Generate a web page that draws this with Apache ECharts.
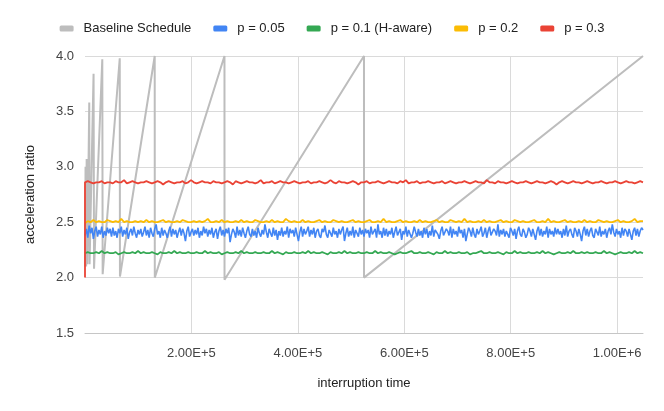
<!DOCTYPE html>
<html>
<head>
<meta charset="utf-8">
<script src="https://cdn.jsdelivr.net/npm/echarts@6/dist/echarts.min.js"></script>
<style>html,body{margin:0;padding:0;background:#fff}#c{width:664px;height:411px}</style>
</head>
<body>
<div id="c"></div>
<script>
// ---- data ----
const seriesNames = ['Baseline Schedule', 'p = 0.05', 'p = 0.1 (H-aware)', 'p = 0.2', 'p = 0.3'];
const xMax = 1048576;
const xTickValues = [200000, 400000, 600000, 800000, 1000000];
const yTickValues = [1.5, 2.0, 2.5, 3.0, 3.5, 4.0];

// baseline doubling schedule: [interruption time, ratio]
const baseline = [
  [300, 2.1], [1000, 3.0], [1100, 2.15], [2000, 3.0], [2150, 2.1], [3100, 3.07],
  [4300, 2.12], [8000, 3.58], [8600, 2.12], [16100, 3.84], [17000, 2.08],
  [32500, 3.97], [33200, 2.03], [65300, 3.98], [65700, 2.01], [131000, 4.0],
  [131150, 2.0], [262100, 4.0], [262200, 1.98], [524250, 4.0], [524350, 2.0],
  [1048576, 4.0]
];

// sampled runs: values at evenly spaced sample times from 0 to xMax
const p005 = [
2.38,2.44,2.36,2.47,2.40,2.45,2.35,2.42,2.46,2.37,2.43,2.39,2.46,2.36,2.42,2.38,2.45,2.40,2.44,2.37,
2.45,2.38,2.42,2.36,2.44,2.40,2.46,2.37,2.43,2.39,2.45,2.35,2.41,2.44,2.38,2.46,2.40,2.36,2.43,2.39,
2.44,2.37,2.41,2.46,2.38,2.43,2.36,2.45,2.40,2.37,2.44,2.48,2.39,2.42,2.36,2.45,2.38,2.43,2.40,2.36,
2.42,2.46,2.37,2.44,2.39,2.43,2.36,2.41,2.45,2.38,2.44,2.40,2.33,2.42,2.46,2.37,2.41,2.44,2.38,2.43,
2.39,2.45,2.36,2.42,2.38,2.46,2.40,2.44,2.37,2.43,2.39,2.45,2.36,2.41,2.44,2.35,2.42,2.46,2.38,2.43,
2.37,2.44,2.40,2.45,2.32,2.39,2.44,2.41,2.36,2.46,2.38,2.43,2.37,2.45,2.40,2.36,2.42,2.46,2.39,2.37,
2.44,2.38,2.42,2.36,2.45,2.40,2.37,2.43,2.39,2.48,2.41,2.36,2.44,2.40,2.37,2.45,2.38,2.43,2.34,2.42,
2.38,2.45,2.37,2.42,2.39,2.46,2.36,2.44,2.40,2.43,2.37,2.45,2.39,2.33,2.41,2.46,2.37,2.44,2.39,2.42,
2.46,2.37,2.43,2.39,2.45,2.36,2.42,2.44,2.38,2.36,2.44,2.41,2.47,2.39,2.36,2.43,2.40,2.37,2.45,2.39,
2.42,2.36,2.44,2.39,2.43,2.46,2.33,2.40,2.45,2.37,2.42,2.38,2.46,2.36,2.43,2.40,2.37,2.45,2.39,2.43,
2.37,2.44,2.40,2.43,2.36,2.46,2.39,2.38,2.44,2.36,2.48,2.39,2.42,2.36,2.45,2.38,2.44,2.37,2.42,2.39,
2.45,2.36,2.41,2.46,2.38,2.37,2.44,2.34,2.42,2.39,2.46,2.37,2.43,2.44,2.36,2.40,2.46,2.41,2.37,2.44,
2.38,2.42,2.36,2.45,2.39,2.44,2.36,2.42,2.38,2.47,2.37,2.43,2.44,2.39,2.35,2.42,2.46,2.38,2.37,2.44,
2.42,2.38,2.46,2.36,2.44,2.39,2.42,2.37,2.46,2.40,2.43,2.36,2.44,2.33,2.39,2.45,2.42,2.37,2.45,2.39,
2.36,2.44,2.39,2.42,2.46,2.37,2.40,2.45,2.36,2.42,2.46,2.38,2.37,2.44,2.42,2.38,2.48,2.37,2.43,2.39,
2.44,2.37,2.42,2.39,2.36,2.45,2.42,2.38,2.44,2.35,2.42,2.46,2.39,2.37,2.44,2.41,2.36,2.39,2.45,2.42,
2.37,2.44,2.39,2.34,2.42,2.46,2.38,2.44,2.37,2.42,2.39,2.46,2.36,2.44,2.39,2.42,2.37,2.45,2.39,2.44,
2.39,2.42,2.36,2.44,2.38,2.47,2.37,2.42,2.44,2.39,2.36,2.45,2.42,2.37,2.44,2.39,2.33,2.42,2.46,2.38,
2.44,2.37,2.42,2.45,2.38,2.36,2.44,2.41,2.38,2.46,2.37,2.42,2.39,2.44,2.36,2.42,2.45,2.39,2.48,2.41,
2.37,2.44,2.39,2.42,2.36,2.45,2.38,2.44,2.42,2.37,2.44,2.39,2.34,2.42,2.45,2.38,2.44,2.37,2.42,2.45,
2.43];
const p01 = [
2.22,2.23,2.22,2.22,2.23,2.22,2.24,2.22,2.23,2.22,2.22,2.23,2.21,2.22,2.23,2.22,2.22,2.23,2.22,2.24,
2.22,2.23,2.22,2.22,2.23,2.22,2.21,2.23,2.22,2.22,2.23,2.22,2.24,2.22,2.23,2.22,2.22,2.23,2.22,2.22,
2.23,2.22,2.22,2.24,2.22,2.23,2.22,2.22,2.23,2.21,2.22,2.23,2.22,2.22,2.23,2.22,2.24,2.22,2.23,2.22,
2.22,2.23,2.22,2.22,2.23,2.22,2.22,2.24,2.22,2.23,2.22,2.21,2.23,2.22,2.22,2.23,2.22,2.22,2.23,2.22,
2.24,2.22,2.23,2.22,2.22,2.23,2.22,2.21,2.23,2.22,2.22,2.23,2.22,2.24,2.22,2.23,2.22,2.22,2.23,2.22,
2.22,2.23,2.22,2.22,2.24,2.22,2.23,2.22,2.22,2.23,2.22,2.21,2.22,2.23,2.22,2.22,2.23,2.24,2.22,2.22,
2.23,2.22,2.22,2.23,2.22,2.21,2.23,2.22,2.22,2.24,2.22,2.23,2.22,2.22,2.23,2.22,2.22,2.23,2.21,2.22,
2.22,2.23,2.24,2.22,2.22,2.23,2.22,2.22,2.23,2.22,2.21,2.23,2.22,2.22,2.24,2.22,2.23,2.22,2.22,2.23,
2.22,2.22,2.23,2.22,2.24,2.22,2.23,2.22,2.21,2.22,2.23,2.22,2.22,2.23,2.22,2.24,2.22,2.22,2.23,2.22,
2.23,2.22,2.22,2.23,2.22,2.22,2.24,2.22,2.23,2.22,2.21,2.22,2.23,2.22,2.22,2.23,2.22,2.24,2.22,2.23,
2.22];
const p02 = [
2.49,2.51,2.50,2.52,2.50,2.51,2.50,2.50,2.52,2.51,2.50,2.51,2.50,2.53,2.50,2.51,2.50,2.50,2.51,2.50,
2.51,2.50,2.52,2.50,2.51,2.50,2.50,2.51,2.52,2.50,2.51,2.50,2.50,2.51,2.50,2.52,2.51,2.50,2.50,2.51,
2.50,2.51,2.50,2.51,2.53,2.50,2.50,2.51,2.50,2.52,2.50,2.51,2.50,2.50,2.51,2.50,2.52,2.50,2.51,2.50,
2.50,2.52,2.51,2.50,2.50,2.51,2.50,2.52,2.50,2.51,2.50,2.50,2.53,2.51,2.50,2.51,2.50,2.50,2.52,2.50,
2.51,2.50,2.50,2.51,2.52,2.50,2.51,2.50,2.50,2.52,2.51,2.50,2.51,2.50,2.50,2.51,2.52,2.50,2.51,2.50,
2.50,2.51,2.52,2.50,2.50,2.51,2.50,2.53,2.50,2.51,2.50,2.50,2.51,2.52,2.50,2.51,2.50,2.50,2.51,2.50,
2.52,2.50,2.51,2.50,2.50,2.51,2.52,2.50,2.51,2.50,2.50,2.52,2.51,2.50,2.51,2.50,2.53,2.50,2.51,2.50,
2.50,2.51,2.50,2.52,2.50,2.51,2.50,2.50,2.51,2.52,2.50,2.51,2.50,2.50,2.52,2.51,2.50,2.51,2.50,2.50,
2.51,2.52,2.50,2.50,2.51,2.50,2.53,2.50,2.51,2.50,2.50,2.51,2.52,2.50,2.51,2.50,2.50,2.51,2.50,2.52,
2.50,2.51,2.50,2.50,2.52,2.51,2.50,2.51,2.50,2.50,2.51,2.52,2.50,2.51,2.50,2.50,2.51,2.53,2.50,2.51,
2.51];
const p03Start = 2.0;
const p03 = [
2.86,2.87,2.86,2.85,2.86,2.86,2.87,2.85,2.86,2.86,2.85,2.87,2.86,2.86,2.88,2.85,2.86,2.87,2.86,2.85,
2.86,2.86,2.87,2.86,2.85,2.86,2.87,2.86,2.84,2.86,2.87,2.86,2.85,2.86,2.86,2.87,2.85,2.86,2.88,2.86,
2.85,2.86,2.87,2.86,2.86,2.85,2.87,2.86,2.86,2.85,2.86,2.87,2.86,2.84,2.87,2.86,2.85,2.86,2.87,2.86,
2.86,2.85,2.86,2.88,2.85,2.86,2.86,2.87,2.85,2.86,2.87,2.86,2.86,2.85,2.86,2.87,2.86,2.85,2.86,2.86,
2.87,2.85,2.86,2.86,2.87,2.86,2.85,2.86,2.88,2.86,2.85,2.87,2.86,2.86,2.85,2.86,2.87,2.86,2.84,2.86,
2.86,2.87,2.85,2.86,2.86,2.87,2.86,2.85,2.86,2.87,2.86,2.86,2.85,2.87,2.86,2.88,2.85,2.86,2.86,2.87,
2.85,2.86,2.86,2.87,2.86,2.85,2.86,2.86,2.87,2.85,2.86,2.87,2.86,2.85,2.86,2.86,2.87,2.86,2.85,2.86,
2.87,2.86,2.86,2.85,2.88,2.86,2.86,2.85,2.87,2.86,2.86,2.85,2.86,2.87,2.86,2.85,2.86,2.86,2.87,2.86,
2.85,2.86,2.87,2.86,2.86,2.85,2.86,2.87,2.86,2.84,2.86,2.87,2.86,2.85,2.86,2.87,2.86,2.86,2.85,2.86,
2.87,2.86,2.85,2.86,2.86,2.87,2.86,2.85,2.86,2.86,2.87,2.86,2.85,2.86,2.87,2.86,2.86,2.85,2.86,2.87,
2.86];

const colors = ['#bdbdbd', '#4285f4', '#34a853', '#fbbc04', '#ea4335'];

// ---- build chart ----
const pair = arr => arr.map((v, i) => [i * xMax / (arr.length - 1), v]);
const red = [[0, p03Start]].concat(pair(p03));

function sci(v) {
  if (v === 0) return '';
  const e = Math.floor(Math.log10(v));
  return (v / Math.pow(10, e)).toFixed(2) + 'E+' + e;
}

const FONT = 'Liberation Sans, Arial, sans-serif';
const chart = echarts.init(document.getElementById('c'), null, {renderer: 'canvas'});
const lineSeries = (name, data, color, width, z) => ({
  name, type: 'line', data, showSymbol: false, symbol: 'none', z,
  lineStyle: {color, width}, itemStyle: {color}, animation: false
});
chart.setOption({
  animation: false,
  color: colors,
  grid: {left: 85, right: 21, top: 56, bottom: 78, containLabel: false},
  legend: {
    top: 17, left: 'center', icon: 'roundRect', itemWidth: 14, itemHeight: 6, itemGap: 22,
    textStyle: {fontFamily: FONT, fontSize: 13, color: '#222', padding: [0, 0, 0, 5]},
    data: seriesNames
  },
  xAxis: {
    type: 'value', min: 0, max: xMax, interval: 200000,
    name: 'interruption time', nameLocation: 'middle', nameGap: 44,
    nameTextStyle: {fontFamily: FONT, fontSize: 13, color: '#222'},
    axisLine: {show: true, lineStyle: {color: '#c6c6c6', width: 1}},
    axisTick: {show: false},
    axisLabel: {fontFamily: FONT, fontSize: 13, color: '#444', margin: 14,
      showMaxLabel: false, showMinLabel: false,
      formatter: v => xTickValues.indexOf(v) >= 0 ? sci(v) : ''},
    splitLine: {show: true, showMinLine: false, showMaxLine: false, lineStyle: {color: '#dadada', width: 1}}
  },
  yAxis: {
    type: 'value', min: yTickValues[0], max: yTickValues[yTickValues.length - 1], interval: 0.5,
    name: 'acceleration ratio', nameLocation: 'middle', nameGap: 48, nameRotate: 90,
    nameTextStyle: {fontFamily: FONT, fontSize: 13, color: '#222'},
    axisLine: {show: false}, axisTick: {show: false},
    axisLabel: {fontFamily: FONT, fontSize: 13, color: '#444', margin: 11, formatter: v => v.toFixed(1)},
    splitLine: {show: true, lineStyle: {color: '#dadada', width: 1}}
  },
  series: [
    lineSeries(seriesNames[0], baseline, colors[0], 2, 2),
    lineSeries(seriesNames[1], pair(p005), colors[1], 1.6, 3),
    lineSeries(seriesNames[2], pair(p01), colors[2], 1.8, 4),
    lineSeries(seriesNames[3], pair(p02), colors[3], 1.8, 5),
    lineSeries(seriesNames[4], red, colors[4], 1.8, 6)
  ]
});
</script>
</body>
</html>
